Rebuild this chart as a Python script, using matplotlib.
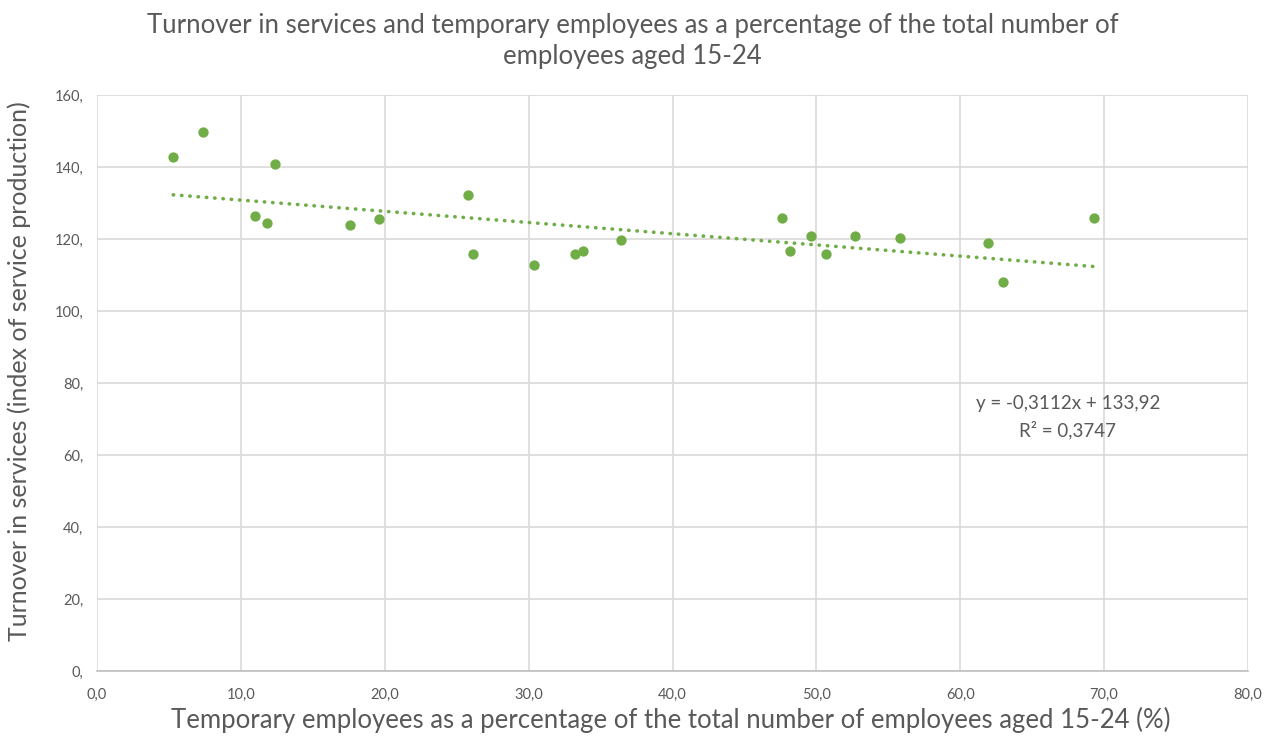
import matplotlib.pyplot as plt
import numpy as np

plt.rcParams['font.family'] = ['Lato', 'DejaVu Sans']

# share of temporary employees aged 15-24 (%) vs. service production index
temp_share = [5.3, 7.4, 12.4, 11.0, 11.8, 17.6, 19.6, 25.8, 26.1, 30.4,
              33.2, 33.8, 36.4, 47.6, 48.2, 49.6, 50.7, 52.7, 55.8, 61.9,
              63.0, 69.3]
turnover = [142.7, 149.8, 140.7, 126.4, 124.4, 123.9, 125.5, 132.1, 115.8, 112.7,
            115.8, 116.7, 119.8, 125.9, 116.8, 120.7, 115.8, 120.7, 120.2, 118.8,
            108.1, 125.9]

slope, intercept = -0.3112, 133.92
r2 = 0.3747

x_ticks = np.arange(0, 81, 10)
y_ticks = np.arange(0, 161, 20)

grey_text = '#595959'
grid_col = '#d9d9d9'
green = '#70ad47'

fig = plt.figure(figsize=(12.65, 7.36), dpi=100)
ax = fig.add_axes([97 / 1265, 1 - 671 / 736, (1248 - 97) / 1265, (671 - 95) / 736])

ax.scatter(temp_share, turnover, s=55, color=green, zorder=3, linewidths=0)

xs = np.array([min(temp_share), max(temp_share)])
ax.plot(xs, slope * xs + intercept, color=green, linestyle=(0, (0.1, 2.2)),
        linewidth=2.6, dash_capstyle='round', zorder=2)

ax.set_xlim(0, 80)
ax.set_ylim(0, 160)
ax.set_xticks(x_ticks)
ax.set_yticks(y_ticks)
ax.set_xticklabels([f'{v:.1f}'.replace('.', ',') for v in x_ticks])
ax.set_yticklabels([f'{v},' for v in y_ticks])
ax.tick_params(length=0, labelsize=10.5, colors=grey_text, pad=10)
ax.tick_params(axis='x', pad=12)

ax.grid(True, color=grid_col, linewidth=1.2)
ax.set_axisbelow(True)
for side in ['top', 'right', 'left']:
    ax.spines[side].set_visible(False)
ax.spines['bottom'].set_color('#bfbfbf')
ax.spines['bottom'].set_linewidth(1.2)

ax.text(0.8435, 0.465, f'y = {slope:.4f}x + {intercept:.2f}'.replace('.', ','),
        transform=ax.transAxes, ha='center', va='center', fontsize=13.5, color=grey_text)
ax.text(0.8435, 0.418, f'R² = {r2:.4f}'.replace('.', ','),
        transform=ax.transAxes, ha='center', va='center', fontsize=13.5, color=grey_text)

fig.text(0.5, 1 - 41 / 736,
         'Turnover in services and temporary employees as a percentage of the total number of\nemployees aged 15-24',
         ha='center', va='center', fontsize=18.5, color=grey_text, linespacing=1.3)
fig.text(671 / 1265, 1 - 720 / 736,
         'Temporary employees as a percentage of the total number of employees aged 15-24 (%)',
         ha='center', va='center', fontsize=18.5, color=grey_text)
fig.text(19 / 1265, 1 - 371 / 736, 'Turnover in services (index of service production)',
         ha='center', va='center', rotation=90, fontsize=18, color=grey_text)

fig.savefig('out.png', dpi=100)
